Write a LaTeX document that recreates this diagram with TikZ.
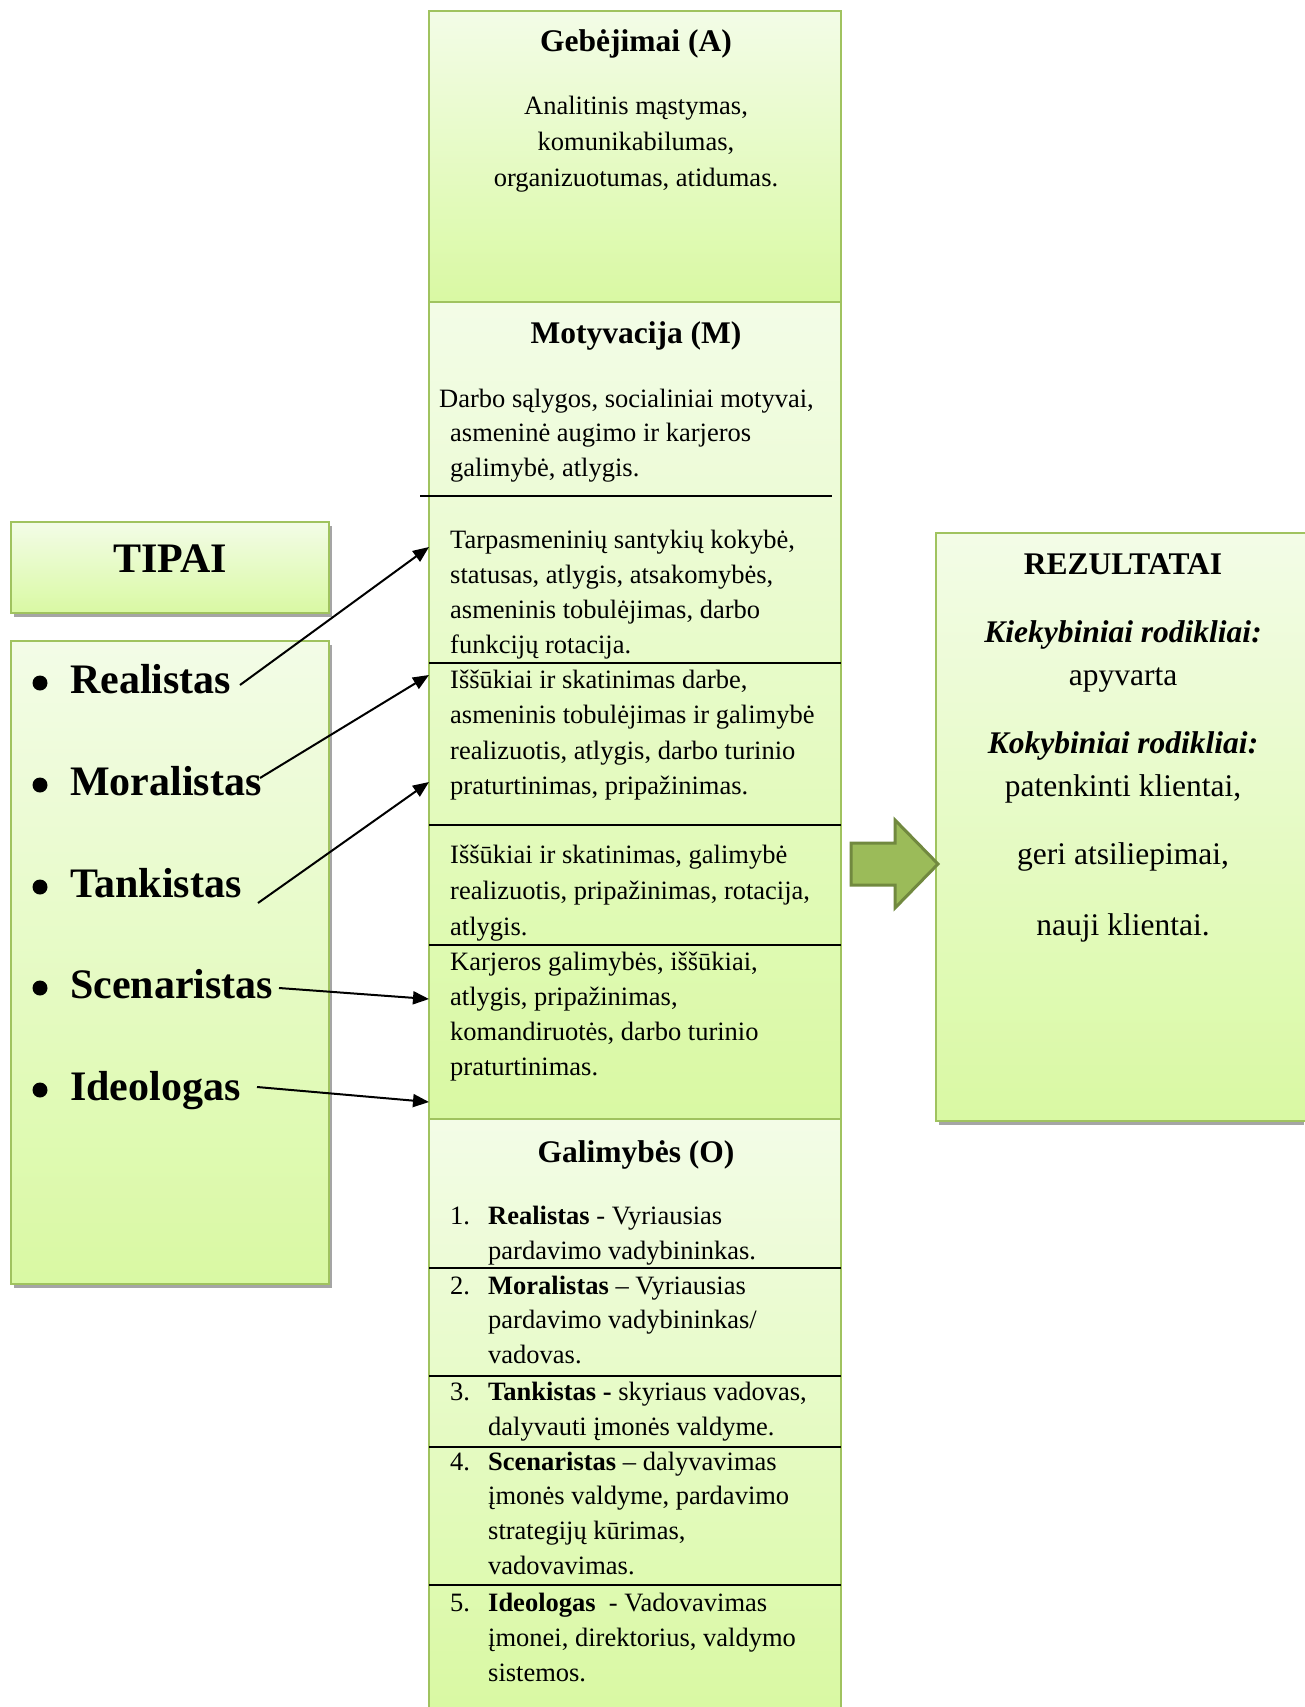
\documentclass[tikz,border=0pt]{standalone}
\usepackage{fontspec}
\setmainfont{Liberation Serif}
\usetikzlibrary{arrows.meta}
\definecolor{gtop}{RGB}{243,252,231}
\definecolor{gbot}{RGB}{217,249,163}
\definecolor{gborder}{RGB}{160,195,95}
\definecolor{arrfill}{RGB}{155,187,89}
\definecolor{arrdraw}{RGB}{113,137,63}
\definecolor{shadowgray}{RGB}{165,165,165}
\newcommand\txtlines[6]{%
  \foreach \ln [count=\k from 0] in {#6} {\node[#2] (#1\k) at ({#3},{#4+\k*#5}) {\ln};}}
\begin{document}
\begin{tikzpicture}[x=1pt,y=-1pt,
  box/.style={top color=gtop,bottom color=gbot,draw=gborder,line width=2pt},
  shadowbox/.style={fill=shadowgray,draw=none},
  divider/.style={black,line width=1.8pt},
  body/.style={font=\fontsize{26.5}{35}\selectfont,inner sep=0pt,anchor=base west},
  bodyc/.style={font=\fontsize{26.5}{35}\selectfont,inner sep=0pt,anchor=base},
  ttl/.style={font=\fontsize{31.5}{38}\selectfont\bfseries,inner sep=0pt,anchor=base},
  res/.style={font=\fontsize{31.5}{38}\selectfont,inner sep=0pt,anchor=base},
  resbi/.style={font=\fontsize{31.5}{38}\selectfont\bfseries\itshape,inner sep=0pt,anchor=base},
  typ/.style={font=\fontsize{42}{50}\selectfont\bfseries,inner sep=0pt,anchor=base west},
  conn/.style={black,line width=2pt,-{Triangle[length=16pt,width=13pt]}}]
\useasboundingbox (0,0) rectangle (1304,1707);
\fill[white] (0,0) rectangle (1304,1707);

% ---- left boxes ----
\fill[shadowbox] (14,526) rectangle (332,617);
\path[box] (11,522) rectangle (329,613);
\node[font=\fontsize{42}{50}\selectfont\bfseries,inner sep=0pt,anchor=base] (tipai) at (170,572) {TIPAI};

\fill[shadowbox] (14,645) rectangle (332,1288);
\path[box] (11,641) rectangle (329,1284);

% ---- right box ----
\fill[shadowbox] (939,537) rectangle (1304,1125);
\path[box] (936,533) rectangle (1306,1121);

% ---- centre column ----
\path[box] (429,11) rectangle (841,302);
\path[box] (429,302) rectangle (841,1119);
\path[top color=gtop,bottom color=gbot] (429,1119) rectangle (841,1707);
\draw[gborder,line width=2pt] (429,1707) -- (429,1119) -- (841,1119) -- (841,1707);

% dividers
\draw[divider] (420,496) -- (832,496);
\draw[divider] (429,663) -- (841,663);
\draw[divider] (429,825) -- (841,825);
\draw[divider] (429,945) -- (841,945);
\draw[divider] (429,1268) -- (841,1268);
\draw[divider] (429,1376) -- (841,1376);
\draw[divider] (429,1447) -- (841,1447);
\draw[divider] (429,1585) -- (841,1585);

% Gebejimai
\node[ttl] (geb) at (636,52) {Gebėjimai (A)};
\txtlines{gebt}{bodyc}{636}{115}{36}{{Analitinis mąstymas,},{komunikabilumas,},{organizuotumas, atidumas.}}

% Motyvacija
\node[ttl] (mot) at (636,343) {Motyvacija (M)};
\node[body] (mot0) at (439,407) {Darbo sąlygos, socialiniai motyvai,};
\txtlines{mott}{body}{450}{441}{35}{{asmeninė augimo ir karjeros},{galimybė, atlygis.}}

\txtlines{ma}{body}{450}{548}{35}{{Tarpasmeninių santykių kokybė,},{statusas, atlygis, atsakomybės,},{asmeninis tobulėjimas, darbo},{funkcijų rotacija.}}
\txtlines{mb}{body}{450}{688}{35.5}{{Iššūkiai ir skatinimas darbe,},{asmeninis tobulėjimas ir galimybė},{realizuotis, atlygis, darbo turinio},{praturtinimas, pripažinimas.}}
\txtlines{mc}{body}{450}{863}{36}{{Iššūkiai ir skatinimas, galimybė},{realizuotis, pripažinimas, rotacija,},{atlygis.}}
\txtlines{md}{body}{450}{970}{35.3}{{Karjeros galimybės, iššūkiai,},{atlygis, pripažinimas,},{komandiruotės, darbo turinio},{praturtinimas.}}

% Galimybes
\node[ttl] (gal) at (636,1162) {Galimybės (O)};
\node[body] (n1) at (450,1224) {1.};
\txtlines{ga}{body}{488}{1224}{35}{{\textbf{Realistas} - Vyriausias},{pardavimo vadybininkas.}}
\node[body] (n2) at (450,1294) {2.};
\txtlines{gb}{body}{488}{1294}{34.5}{{\textbf{Moralistas} – Vyriausias},{pardavimo vadybininkas/},{vadovas.}}
\node[body] (n3) at (450,1400) {3.};
\txtlines{gc}{body}{488}{1400}{35}{{\textbf{Tankistas -} skyriaus vadovas,},{dalyvauti įmonės valdyme.}}
\node[body] (n4) at (450,1470) {4.};
\txtlines{gd}{body}{488}{1470}{34.7}{{\textbf{Scenaristas} – dalyvavimas},{įmonės valdyme, pardavimo},{strategijų kūrimas,},{vadovavimas.}}
\node[body] (n5) at (450,1611) {5.};
\txtlines{ge}{body}{488}{1611}{35}{{\textbf{Ideologas}\ \ - Vadovavimas},{įmonei, direktorius, valdymo},{sistemos.}}

% REZULTATAI
\node[ttl] (rez) at (1123,574) {REZULTATAI};
\node[resbi] (kiek) at (1123,642) {Kiekybiniai rodikliai:};
\node[res] (apy) at (1123,685) {apyvarta};
\node[resbi] (koky) at (1123,753) {Kokybiniai rodikliai:};
\node[res] (pat) at (1123,796) {patenkinti klientai,};
\node[res] (geri) at (1123,864) {geri atsiliepimai,};
\node[res] (nauji) at (1123,935) {nauji klientai.};

% block arrow
\filldraw[fill=arrfill,draw=arrdraw,line width=3pt,line join=miter]
  (851,843) -- (895,843) -- (895,820) -- (938,864) -- (895,908) -- (895,885) -- (851,885) -- cycle;

% types
\foreach \nm/\yy/\tx in {t1/693/Realistas,t2/795/Moralistas,t3/897/Tankistas,t4/998/Scenaristas,t5/1100/Ideologas}{
  \fill (40,\yy-10) circle (7.5);
  \node[typ] (\nm) at (70,\yy) {\tx};
}

% connectors
\coordinate (s1) at (240,685); \coordinate (e1) at (429,547);
\coordinate (s2) at (260,778); \coordinate (e2) at (429,675);
\coordinate (s3) at (258,903); \coordinate (e3) at (429,782);
\coordinate (s4) at (279,988); \coordinate (e4) at (429,999);
\coordinate (s5) at (257,1087); \coordinate (e5) at (429,1102);
\foreach \i in {1,...,5}{\draw[conn] (s\i) -- (e\i);}
\end{tikzpicture}
\end{document}
